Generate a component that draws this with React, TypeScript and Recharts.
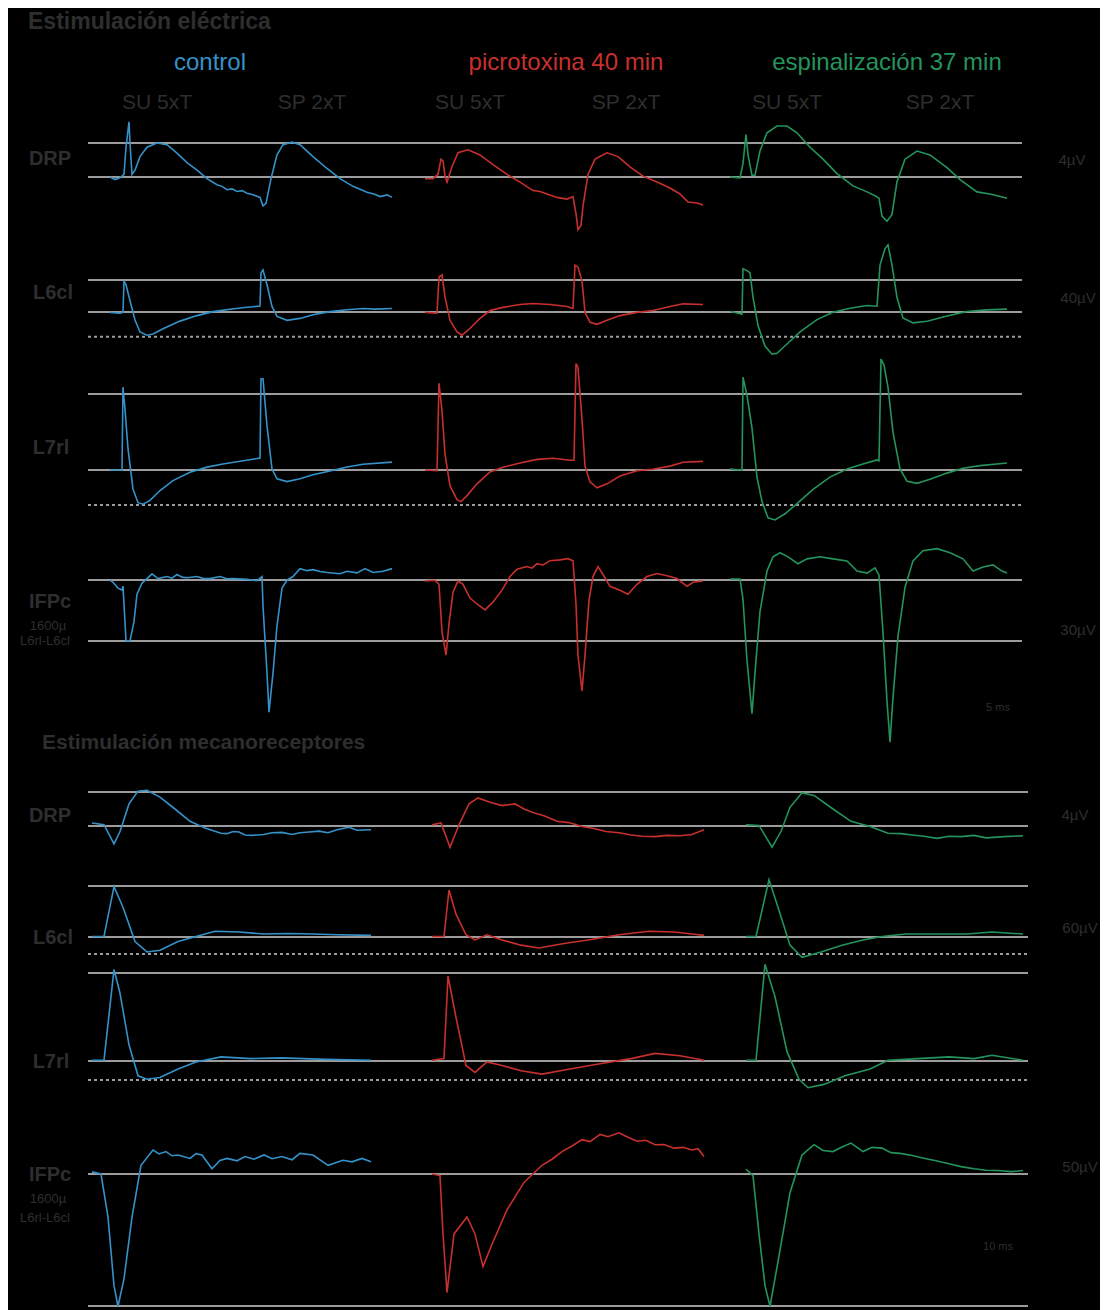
import React from 'react';
import { LineChart, Line, XAxis, YAxis, ReferenceLine } from 'recharts';

// [time in samples from sweep start, amplitude in µV]
type Pt = [number, number];

// ---- electrical stimulation (SU 5xT then SP 2xT in each sweep) ----
const elecDrpControl: Pt[] = [
  [0, 0], [5, -0.3], [10, -0.1], [14, 0.3], [16, 3.5], [19, 6.5], [20, 4], [22, 0.3], [25, 0.8], [30, 2.4],
  [37, 3.5], [47, 4], [57, 3.8], [67, 2.8], [77, 1.7], [87, 0.8], [97, -0.2], [107, -0.9], [112, -1.1], [117, -1.5],
  [122, -1.4], [127, -1.7], [132, -1.6], [137, -1.9], [143, -2.1], [150, -2.4], [153, -3.4], [156, -3.1], [161, -0.2],
  [167, 2.6], [173, 3.8], [182, 4.1], [190, 3.8], [203, 2.4], [217, 1], [230, -0.2], [243, -1.1], [257, -1.8],
  [264, -2.0], [270, -2.3], [277, -2.1], [282, -2.4],
];
const elecL6Control: Pt[] = [
  [0, -0.5], [10, -1.5], [13, -0.5], [14, 39], [16, 34], [20, 14], [25, -10], [30, -25], [37, -29], [43, -27.6],
  [53, -21], [70, -11.4], [87, -4.5], [103, 0.5], [120, 3.4], [137, 5.9], [150, 7.4], [151, 48.8], [153, 52.6],
  [157, 34], [162, 6.9], [167, -5.5], [177, -10.4], [190, -8], [203, -3.5], [220, 0.5], [237, 2.9], [253, 4.4],
  [265, 3.6], [282, 4.4],
];
const elecL7Control: Pt[] = [
  [0, 0], [12, 0], [13, 109], [15, 80], [18, 28], [23, -25], [28, -43], [33, -45], [40, -40], [50, -27],
  [63, -14], [80, -3], [97, 3.8], [113, 8], [130, 11.6], [143, 14.2], [150, 15.8], [151, 120], [153, 120],
  [157, 58], [162, 1.3], [167, -11.6], [177, -15.3], [190, -11.6], [203, -6.3], [220, -1.2], [237, 4],
  [253, 7.6], [282, 10.3],
];
const elecIfpControl: Pt[] = [
  [0, -0.1], [3, -1.1], [8, -4], [12, -5], [13, -3], [16, -30], [20, -30], [24, -20.5], [27, -7], [32, -1.6],
  [37, 0.7], [42, 3], [48, 0.7], [57, 1.7], [62, 0.9], [67, 2.7], [72, 1.4], [77, 1.1], [87, 1.7], [93, 0.8],
  [100, 0.7], [110, 1.7], [117, 0.6], [123, 0.7], [137, 0.3], [147, -0.3], [152, 1.7], [153, -12.8], [157, -45.8],
  [159, -65], [163, -45.8], [167, -22.5], [172, -4], [177, -0.1], [183, 1.7], [190, 5.6], [197, 4.6], [203, 5.1],
  [210, 4.2], [217, 3.7], [230, 3.1], [237, 4.3], [247, 3.5], [255, 5.6], [263, 3.7], [273, 4.3], [282, 5.6],
];

const elecDrpPicro: Pt[] = [
  [0, -0.2], [8, -0.2], [13, 0.3], [16, 2.1], [18, 1.9], [20, 0.1], [22, -0.6], [27, 1.2], [33, 2.85], [43, 3.2],
  [55, 2.6], [68, 1.45], [82, 0.3], [95, -0.6], [108, -1.6], [115, -1.7], [122, -2], [132, -2.4], [142, -2.6],
  [148, -2.3], [151, -4.3], [153, -6.2], [156, -5.7], [158, -3.4], [163, 0.3], [170, 2.1], [182, 2.85], [193, 2.4],
  [205, 1.2], [218, 0.1], [232, -0.6], [245, -1.3], [255, -2], [263, -2.95], [272, -3.05], [278, -3.3],
];
const elecL6Picro: Pt[] = [
  [0, -0.5], [12, -1.5], [14, 43.8], [17, 46.3], [20, 19], [25, -10.4], [32, -25], [37, -29], [43, -22.8],
  [55, -8], [65, 1.8], [78, 5.8], [95, 9.3], [108, 10.7], [125, 9.3], [142, 6.8], [148, 4.4], [150, 58.6],
  [153, 56], [157, 39], [160, -0.5], [165, -12.9], [172, -15.4], [182, -10.4], [195, -4.5], [212, -0.5],
  [228, 1.8], [245, 6.8], [258, 10.2], [278, 9.3],
];
const elecL7Picro: Pt[] = [
  [0, 0], [12, -1], [14, 114], [17, 78], [20, 21], [25, -21], [32, -39], [36, -41.6], [42, -33.7], [52, -18.2],
  [65, -2.6], [78, 3.6], [95, 9.3], [112, 14], [128, 15.5], [145, 12.9], [149, 12.9], [151, 140], [153, 135],
  [157, 67], [160, 5], [165, -15.6], [172, -23.4], [182, -18.2], [195, -7.9], [212, -1], [228, 1], [245, 5.1],
  [258, 10.3], [278, 11.3],
];
const elecIfpPicro: Pt[] = [
  [0, -0.5], [10, -0.1], [14, -2.1], [17, -25.4], [21, -37], [24, -21.5], [28, -6], [33, -0.5], [38, -2.1],
  [45, -8.9], [52, -11.8], [60, -14.7], [68, -10.8], [77, -5], [85, 1.7], [92, 5.3], [102, 6.6], [107, 5.8],
  [112, 8], [118, 7.4], [125, 9.5], [135, 9.9], [143, 10.5], [148, 9.5], [151, -11.8], [153, -37], [157, -54.5],
  [160, -37], [164, -9.9], [168, 1.7], [173, 6.6], [178, 2.7], [185, -3.1], [195, -5], [203, -7], [212, -2.1],
  [222, 1.7], [232, 3.2], [242, 2.1], [252, 0.7], [262, -3.1], [268, -1.1], [278, -0.5],
];

const elecDrpEsp: Pt[] = [
  [0, 0], [10, -0.1], [13, 1.6], [16, 5], [18, 2.6], [22, 0.2], [25, 0.2], [30, 3.05], [37, 5.2], [47, 6],
  [57, 6], [67, 5.2], [80, 3.5], [93, 2.1], [107, 0.4], [123, -1.05], [137, -1.75], [145, -2.2], [149, -2.5],
  [152, -4.6], [157, -5.2], [162, -4.4], [167, -0.55], [175, 2.1], [187, 3.05], [200, 2.6], [217, 1.1],
  [230, -0.3], [247, -1.75], [260, -2], [277, -2.5],
];
const elecL6Esp: Pt[] = [
  [0, 0.9], [12, -2.7], [13, 54], [17, 51.7], [20, 49], [23, 18.6], [28, -17], [35, -42.5], [42, -52.7],
  [47, -51.7], [57, -40], [70, -24.8], [87, -9.5], [103, -0.4], [120, 4.6], [137, 8.2], [147, 7.2], [150, 58.6],
  [155, 79], [158, 84], [162, 58.6], [167, 18], [173, -7.5], [183, -13.6], [197, -11.6], [217, -5], [237, 0.6],
  [257, 2.6], [277, 3.6],
];
const elecL7Esp: Pt[] = [
  [0, 1.3], [12, -0.3], [13, 122], [17, 98], [22, 55], [27, -9.3], [32, -41.5], [38, -62.9], [45, -65.7],
  [55, -57.6], [67, -44.2], [83, -25.4], [100, -9.3], [117, 1.3], [133, 7.8], [147, 13.2], [149, 12.1],
  [151, 146], [154, 138], [158, 108.6], [163, 49.6], [170, 1.3], [177, -14.7], [187, -17.5], [200, -12.1],
  [217, -4.1], [233, 2.4], [250, 5.7], [267, 7.8], [277, 9.3],
];
const elecIfpEsp: Pt[] = [
  [0, 0.5], [10, 0.5], [13, -9.5], [17, -39.6], [22, -65.7], [25, -45.7], [30, -15.6], [37, 4.4], [43, 11.4],
  [50, 13.4], [58, 11.4], [68, 8], [77, 10.4], [90, 11.4], [103, 10.4], [117, 9.4], [127, 4.4], [137, 3.4],
  [145, 6], [149, 2.4], [153, -25.7], [157, -59.7], [160, -79.8], [163, -57.7], [168, -27.7], [175, -3.6],
  [183, 9.4], [193, 14.4], [207, 15.4], [220, 13.4], [233, 10.4], [243, 4.4], [253, 6.4], [263, 7.4],
  [272, 4.4], [277, 3.4],
];

// ---- mechanoreceptor stimulation ----
const mechDrpControl: Pt[] = [
  [0, 0.35], [12, 0.15], [22, -2.1], [28, -0.65], [37, 2.6], [46, 4.1], [55, 4.2], [68, 3.4], [83, 2],
  [98, 0.55], [113, -0.25], [129, -0.85], [135, -0.9], [141, -0.65], [147, -0.7], [153, -1.05], [160, -1.1],
  [172, -1], [180, -0.8], [190, -0.75], [200, -1.0], [208, -0.8], [217, -0.7], [227, -0.6], [236, -0.8],
  [245, -0.45], [251, -0.3], [257, -0.15], [265, -0.5], [279, -0.45],
];
const mechDrpPicro: Pt[] = [
  [0, 0.15], [9, 0.35], [18, -2.5], [27, 0.15], [37, 2.6], [46, 3.3], [58, 2.8], [70, 2.4], [83, 2.6],
  [92, 2.0], [101, 1.6], [112, 1.2], [125, 0.55], [137, 0.4], [150, -0.05], [162, -0.3], [174, -0.65],
  [187, -0.8], [199, -1.05], [210, -1.2], [223, -1.25], [235, -1.1], [248, -1.15], [260, -1], [272, -0.45],
];
const mechDrpEsp: Pt[] = [
  [0, 0.15], [13, 0.07], [26, -2.5], [35, -0.65], [44, 2.2], [56, 3.9], [68, 3.6], [87, 2], [105, 0.55],
  [124, -0.05], [142, -0.85], [155, -0.9], [166, -1.05], [178, -1.2], [191, -1.45], [203, -1.2], [215, -1.25],
  [228, -1.1], [240, -1.4], [258, -1.25], [277, -1.15],
];

const mechL6Control: Pt[] = [
  [0, 0.6], [12, 0.6], [22, 59.3], [31, 35], [43, -5.4], [55, -17.6], [68, -15.5], [86, -5.4], [104, 0.6],
  [123, 6.7], [147, 5.9], [172, 3.5], [196, 4.2], [221, 3.5], [245, 2.6], [279, 1.9],
];
const mechL6Picro: Pt[] = [
  [0, 0.6], [12, 0.6], [17, 55.3], [24, 26.9], [34, 2.6], [43, -3.5], [55, 2.6], [70, -3.5], [89, -9.6],
  [107, -12.9], [132, -7.6], [156, -3.5], [187, 2.6], [217, 6.7], [242, 5.9], [260, 3.5], [272, 1.9],
];
const mechL6Esp: Pt[] = [
  [0, 0.6], [10, 0.6], [23, 67.4], [32, 35], [44, -9.6], [56, -23.9], [75, -17.6], [96, -9.6], [117, -3.5],
  [136, 0.6], [160, 3.5], [191, 3.5], [221, 3.5], [246, 5.9], [277, 3.5],
];

const mechL7Control: Pt[] = [
  [0, 0.8], [12, 0.8], [22, 104], [28, 77], [37, 18.4], [46, -16.8], [55, -20.7], [68, -18.7], [86, -9],
  [104, -1.1], [129, 4.7], [159, 2.7], [190, 3.5], [233, 1.9], [279, 0.8],
];
const mechL7Picro: Pt[] = [
  [0, 0.8], [12, 2.7], [16, 96.6], [24, 49.6], [34, -5.1], [43, -13], [55, -1.1], [70, -5.1], [89, -11],
  [110, -14.9], [138, -9], [168, -3.2], [199, 2.7], [223, 8.6], [248, 5.9], [272, 0.8],
];
const mechL7Esp: Pt[] = [
  [0, 0.8], [10, 0.8], [19, 110], [29, 73], [41, 10.6], [53, -20.7], [62, -30.4], [78, -26.6], [99, -16.8],
  [124, -9], [142, 0.8], [172, 2.7], [203, 4.7], [228, 2.7], [246, 6.6], [277, 0.8],
];

const mechIfpControl: Pt[] = [
  [0, 0.8], [9, 0], [16, -16.3], [22, -42.3], [26, -50.1], [32, -39.7], [40, -16.3], [49, 3.3], [61, 9.1],
  [67, 7.6], [74, 8.5], [80, 6.9], [86, 7.2], [98, 5.9], [104, 7.7], [110, 7.2], [120, 2], [128, 5.1],
  [135, 5.9], [145, 5.0], [153, 6.6], [162, 5.6], [172, 7.2], [180, 5.8], [190, 6.6], [200, 5.4], [208, 7.8],
  [221, 7.2], [236, 3.3], [251, 5.2], [260, 4.6], [270, 5.9], [279, 4.6],
];
const mechIfpPicro: Pt[] = [
  [0, 0], [8, -0.6], [11, -22.7], [15, -44.9], [22, -22.7], [35, -16.3], [43, -22.7], [51, -35.1],
  [60, -26.6], [75, -13.6], [92, -3.2], [110, 3.3], [120, 5.6], [130, 8.5], [140, 10.6], [150, 13], [158, 12.3],
  [168, 15], [176, 14.1], [187, 15.6], [196, 13.9], [205, 12.4], [214, 12.8], [223, 11.1], [232, 11.2],
  [242, 9.8], [251, 10.1], [260, 9.1], [266, 9.6], [272, 6.6],
];
const mechIfpEsp: Pt[] = [
  [0, 1.8], [7, -0.6], [13, -22.7], [19, -42.3], [24, -50.1], [32, -33.2], [44, -7.1], [56, 7.2], [68, 11.1],
  [77, 8.9], [87, 8.5], [96, 10.2], [105, 11.7], [117, 8.5], [126, 10.1], [136, 9.8], [145, 8.1], [154, 7.8],
  [165, 7.1], [179, 5.9], [190, 5.0], [203, 3.9], [215, 2.8], [228, 2], [240, 1.4], [252, 1.3], [265, 0.9],
  [277, 1.3],
];

const COLORS = { control: '#3592c9', picro: '#c8302e', esp: '#24945c' };
const GRID = '#9c9c9c';
const LABEL = '#2e2e2e';

interface Trace { pts: Pt[]; color: string; offset: number }
interface RowSpec {
  top: number; bottom: number; base: number; pxPerUV: number; width: number;
  levels: number[]; dashed?: number; traces: Trace[];
}

const LEFT = 88;
const ELEC_OFFS = [22, 337, 642];
const MECH_OFFS = [4, 344, 658];

const trio = (a: Pt[], b: Pt[], c: Pt[], offs: number[]): Trace[] => [
  { pts: a, color: COLORS.control, offset: offs[0] },
  { pts: b, color: COLORS.picro, offset: offs[1] },
  { pts: c, color: COLORS.esp, offset: offs[2] },
];

const rows: RowSpec[] = [
  { top: 105, bottom: 235, base: 177, pxPerUV: 34 / 4, width: 934, levels: [0, 4],
    traces: trio(elecDrpControl, elecDrpPicro, elecDrpEsp, ELEC_OFFS) },
  { top: 235, bottom: 365, base: 312, pxPerUV: 32 / 40, width: 934, levels: [0, 40], dashed: -31,
    traces: trio(elecL6Control, elecL6Picro, elecL6Esp, ELEC_OFFS) },
  { top: 345, bottom: 535, base: 470, pxPerUV: 76 / 100, width: 934, levels: [0, 100], dashed: -46,
    traces: trio(elecL7Control, elecL7Picro, elecL7Esp, ELEC_OFFS) },
  { top: 540, bottom: 760, base: 580, pxPerUV: 61 / 30, width: 934, levels: [0, -30],
    traces: trio(elecIfpControl, elecIfpPicro, elecIfpEsp, ELEC_OFFS) },
  { top: 770, bottom: 860, base: 826, pxPerUV: 34 / 4, width: 940, levels: [0, 4],
    traces: trio(mechDrpControl, mechDrpPicro, mechDrpEsp, MECH_OFFS) },
  { top: 860, bottom: 970, base: 937, pxPerUV: 51 / 60, width: 940, levels: [0, 60], dashed: -20,
    traces: trio(mechL6Control, mechL6Picro, mechL6Esp, MECH_OFFS) },
  { top: 950, bottom: 1100, base: 1061, pxPerUV: 88 / 100, width: 940, levels: [0, 100], dashed: -21.6,
    traces: trio(mechL7Control, mechL7Picro, mechL7Esp, MECH_OFFS) },
  { top: 1120, bottom: 1310, base: 1174, pxPerUV: 132 / 50, width: 940, levels: [0, -50],
    traces: trio(mechIfpControl, mechIfpPicro, mechIfpEsp, MECH_OFFS) },
];

function TraceRow({ top, bottom, base, pxPerUV, width, levels, dashed, traces }: RowSpec) {
  const height = bottom - top;
  const domain: [number, number] = [(base - bottom) / pxPerUV, (base - top) / pxPerUV];
  return (
    <div style={{ position: 'absolute', left: LEFT - 8, top: top - 8 }}>
      <LineChart width={width} height={height} margin={{ top: 0, right: 0, bottom: 0, left: 0 }}>
        <XAxis type="number" dataKey="t" domain={[0, width]} allowDataOverflow hide />
        <YAxis type="number" domain={domain} allowDataOverflow hide />
        {levels.map((l) => (
          <ReferenceLine key={l} y={l} stroke={GRID} strokeWidth={2} />
        ))}
        {dashed !== undefined && (
          <ReferenceLine y={dashed} stroke={GRID} strokeWidth={2} strokeDasharray="3 3" />
        )}
        {traces.map((tr, i) => (
          <Line
            key={i}
            data={tr.pts.map(([t, v]) => ({ t: t + tr.offset, v }))}
            dataKey="v"
            type="linear"
            stroke={tr.color}
            strokeWidth={1.6}
            dot={false}
            isAnimationActive={false}
          />
        ))}
      </LineChart>
    </div>
  );
}

interface Label { text: string; x: number; y: number; size: number; color?: string; bold?: boolean; align?: 'left' | 'center' }

const labels: Label[] = [
  { text: 'Estimulación eléctrica', x: 28, y: 22, size: 23, bold: true, align: 'left' },
  { text: 'control', x: 210, y: 62, size: 24, color: COLORS.control },
  { text: 'picrotoxina 40 min', x: 566, y: 62, size: 24, color: COLORS.picro },
  { text: 'espinalización 37 min', x: 887, y: 62, size: 24, color: COLORS.esp },
  { text: 'SU 5xT', x: 157, y: 102, size: 21 },
  { text: 'SP 2xT', x: 312, y: 102, size: 21 },
  { text: 'SU 5xT', x: 470, y: 102, size: 21 },
  { text: 'SP 2xT', x: 626, y: 102, size: 21 },
  { text: 'SU 5xT', x: 787, y: 102, size: 21 },
  { text: 'SP 2xT', x: 940, y: 102, size: 21 },
  { text: 'DRP', x: 50, y: 158, size: 20, bold: true },
  { text: 'L6cl', x: 53, y: 292, size: 20, bold: true },
  { text: 'L7rl', x: 51, y: 447, size: 20, bold: true },
  { text: 'IFPc', x: 50, y: 601, size: 20, bold: true },
  { text: '1600µ', x: 48, y: 626, size: 13 },
  { text: 'L6rl-L6cl', x: 45, y: 641, size: 13 },
  { text: '4µV', x: 1072, y: 160, size: 15 },
  { text: '40µV', x: 1078, y: 298, size: 15 },
  { text: '30µV', x: 1078, y: 630, size: 15 },
  { text: '5 ms', x: 998, y: 708, size: 11 },
  { text: 'Estimulación mecanoreceptores', x: 42, y: 742, size: 21, bold: true, align: 'left' },
  { text: 'DRP', x: 50, y: 815, size: 20, bold: true },
  { text: 'L6cl', x: 53, y: 937, size: 20, bold: true },
  { text: 'L7rl', x: 51, y: 1061, size: 20, bold: true },
  { text: 'IFPc', x: 50, y: 1174, size: 20, bold: true },
  { text: '1600µ', x: 48, y: 1199, size: 13 },
  { text: 'L6rl-L6cl', x: 45, y: 1218, size: 13 },
  { text: '4µV', x: 1075, y: 815, size: 15 },
  { text: '60µV', x: 1080, y: 928, size: 15 },
  { text: '50µV', x: 1080, y: 1167, size: 15 },
  { text: '10 ms', x: 998, y: 1247, size: 11 },
];

export default function App() {
  return (
    <div
      style={{
        position: 'relative',
        width: 1100,
        height: 1302,
        background: '#000',
        overflow: 'hidden',
        fontFamily: '"Liberation Sans", Arial, sans-serif',
      }}
    >
      <style>{'body{overflow:hidden}'}</style>
      {rows.map((r, i) => (
        <TraceRow key={i} {...r} />
      ))}
      {labels.map((l, i) => (
        <div
          key={i}
          style={{
            position: 'absolute',
            left: l.x - 8,
            top: l.y - 8,
            transform: l.align === 'left' ? 'translateY(-50%)' : 'translate(-50%, -50%)',
            fontSize: l.size,
            fontWeight: l.bold ? 700 : 400,
            color: l.color ?? LABEL,
            whiteSpace: 'nowrap',
            lineHeight: 1.2,
          }}
        >
          {l.text}
        </div>
      ))}
    </div>
  );
}
